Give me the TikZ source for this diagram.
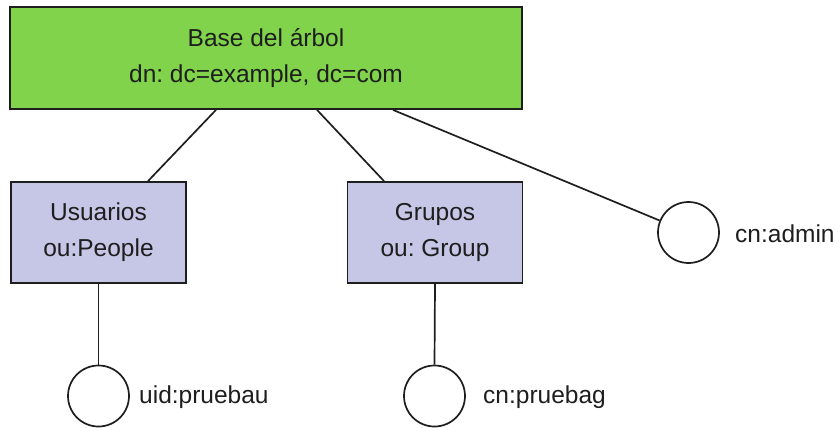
\documentclass[tikz,border=0pt]{standalone}
\usepackage{fontspec}
\setmainfont{Liberation Sans}
\frenchspacing
\definecolor{rootgreen}{RGB}{128,211,74}
\definecolor{oulav}{RGB}{198,198,230}
\definecolor{ink}{RGB}{30,30,30}
\begin{document}
\begin{tikzpicture}[x=1pt,y=-1pt,
  every node/.style={font=\fontsize{24.5}{36}\selectfont, text=ink},
  rootbox/.style={draw=ink, line width=1.8pt, fill=rootgreen, minimum width=512pt, minimum height=102pt, inner sep=0pt, align=center},
  oubox/.style={draw=ink, line width=1.8pt, fill=oulav, minimum width=175pt, minimum height=101pt, inner sep=0pt, align=center},
  leaf/.style={circle, draw=ink, line width=1.7pt, fill=white, minimum size=61pt, inner sep=0pt},
  leaflabel/.style={anchor=base west, inner sep=0pt},
  link/.style={draw=ink, line width=1.7pt}]
\useasboundingbox (0,0) rectangle (840,428);
\node[rootbox] (root) at (266,58) {Base del árbol\\dn: dc=example, dc=com};
\node[oubox] (usr) at (98.5,232.5) {Usuarios\\ou:People};
\node[oubox] (grp) at (435,232.5) {Grupos\\ou: Group};
\node[leaf] (admin) at (688.5,232.5) {};
\node[leaf] (uid) at (98.5,396) {};
\node[leaf] (cnp) at (434.5,396) {};
\node[leaflabel] (adminlbl) at (735,242) {cn:admin};
\node[leaflabel] (uidlbl) at (139,403) {uid:pruebau};
\node[leaflabel] (cnplbl) at (483,403) {cn:pruebag};
\draw[link] (216,0 |- root.south) -- (148,0 |- usr.north);
\draw[link] (317,0 |- root.south) -- (384,0 |- grp.north);
\draw[link] (393,0 |- root.south) -- (admin);
\draw[link] (usr.south) -- (uid.north);
\draw[link] (grp.south) -- (cnp.north);
\end{tikzpicture}
\end{document}
